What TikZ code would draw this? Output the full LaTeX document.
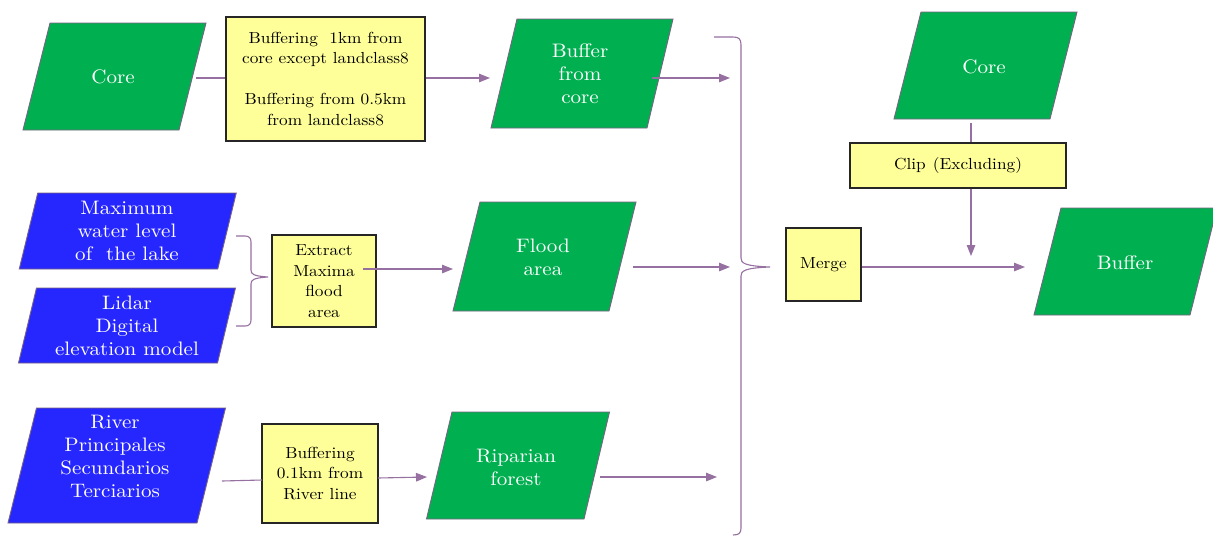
\documentclass[tikz,border=0pt]{standalone}
\usepackage{fontspec}
\setmainfont{lmroman10-regular.otf}[FakeStretch=1.08]
\usetikzlibrary{arrows.meta,calc}
\definecolor{pgreen}{RGB}{0,176,80}
\definecolor{pblue}{RGB}{38,38,255}
\definecolor{pyellow}{RGB}{255,255,153}
\definecolor{plink}{RGB}{150,112,160}
\definecolor{pedge}{RGB}{120,100,130}
\tikzset{
 wtext/.style={text=white, align=center, font=\fontsize{19.5}{23}\selectfont, inner sep=0pt},
 ytext/.style={align=center, font=\fontsize{16}{20.5}\selectfont, inner sep=0pt},
 ybox/.style={draw=black!85, fill=pyellow, line width=1.1pt},
 para/.style={draw=pedge, line width=0.9pt},
 conn/.style={draw=plink, line width=1.1pt},
 arr/.style={conn, -{Triangle[length=11pt,width=8.5pt]}},
}
% #1 name, #2 cx, #3 cy, #4 width, #5 height, #6 slant, #7 colour
\newcommand\paral[7]{%
 \path[para, fill=#7] (#2-#4/2+#6/2, #3-#5/2) -- (#2+#4/2+#6/2, #3-#5/2) -- (#2+#4/2-#6/2, #3+#5/2) -- (#2-#4/2-#6/2, #3+#5/2) -- cycle;
 \coordinate (#1) at (#2,#3);}
\begin{document}
\begin{tikzpicture}[x=1pt,y=-1pt]
\useasboundingbox[fill=white] (0,0) rectangle (1213,536);

% parallelograms
\paral{coreL}{114.5}{76.5}{156}{107}{27}{pgreen}
\node[wtext] (coreLt) at (113,77) {Core};
\paral{bfc}{582}{73.5}{156}{109}{26}{pgreen}
\node[wtext] (bfct) at (580,74) {Buffer\\from\\core};
\paral{fl}{544.5}{256.5}{156}{109}{27}{pgreen}
\node[wtext] (flt) at (543,257) {Flood\\area};
\paral{mx}{127.75}{231}{198.5}{76}{18.5}{pblue}
\node[wtext] (mxt) at (127,231) {Maximum\\water level\\of\ \ the lake};
\paral{li}{127}{325.5}{199}{75}{18}{pblue}
\node[wtext] (lit) at (127,326) {Lidar\\Digital\\elevation model};
\paral{rv}{116.75}{465.5}{189}{115}{28.5}{pblue}
\node[wtext] (rvt) at (115,456) {River\\Principales\\Secundarios\\Terciarios};
\paral{rp}{518}{465.5}{157.5}{107}{25.5}{pgreen}
\node[wtext] (rpt) at (516,467) {Riparian\\forest};
\paral{coreR}{985.5}{65.5}{156}{107}{27}{pgreen}
\node[wtext] (coreRt) at (984,67) {Core};
\paral{bufR}{1125.5}{261.5}{156}{107}{27}{pgreen}
\node[wtext] (bufRt) at (1125,263) {Buffer};

% yellow boxes
\node[ybox, ytext, minimum width=199, minimum height=124] (y1) at (325.5,79)
 {Buffering\ \ 1km from\\core except landclass8\\[20.5pt]Buffering from 0.5km\\from landclass8};
\node[ybox, ytext, minimum width=104, minimum height=92] (ex) at (324,281)
 {Extract\\Maxima\\flood\\area};
\node[ybox, ytext, minimum width=116, minimum height=99] (y3) at (320,473.5)
 {Buffering\\0.1km from\\River line};
\node[ybox, ytext, minimum width=75, minimum height=73] (merge) at (823.5,264.5) {Merge};
\node[ybox, ytext, minimum width=216, minimum height=45] (clip) at (958,165.5)
 {Clip\hspace{0.45em}(Excluding)};

% connector end points
\coordinate (a1) at (196,78);
\coordinate (a2) at (490,78);
\coordinate (c1) at (652,78);
\coordinate (c2) at (730,78);
\coordinate (e1) at (363,269);
\coordinate (e2) at (453,269);
\coordinate (f1) at (633,267);
\coordinate (f2) at (730,267);
\coordinate (g1) at (222,481);
\coordinate (g2) at (262,480);
\coordinate (h1) at (378,478);
\coordinate (h2) at (427,477);
\coordinate (i1) at (600,477);
\coordinate (i2) at (717,477);
\coordinate (k2) at (1025,267);
\coordinate (l1) at (971,123);
\coordinate (m2) at (971,256);

% connectors
\draw[conn] (a1) -- (a1 -| y1.west);
\draw[arr] (y1.east |- a2) -- (a2);
\draw[arr] (c1) -- (c2);
\draw[arr] (e1) -- (e2);
\draw[arr] (f1) -- (f2);
\draw[conn] (g1) -- (g2);
\draw[arr] (h1) -- (h2);
\draw[arr] (i1) -- (i2);
\draw[arr] (merge.east |- k2) -- (k2);
\draw[conn] (l1) -- (l1 |- clip.north);
\draw[arr] (m2 |- clip.south) -- (m2);

% braces
\draw[conn] (714,37) -- (733,37) .. controls (739,37) and (741,39) .. (741,45)
 -- (741,258) .. controls (741,263) and (744,266) .. (770,267)
 .. controls (744,268) and (741,271) .. (741,276)
 -- (741,528) .. controls (741,533) and (739,535) .. (733,535);
\draw[conn] (236,236) -- (245,236) .. controls (249,236) and (251,238) .. (251,242)
 -- (251,270) .. controls (251,274) and (253,276) .. (268,277)
 .. controls (253,278) and (251,280) .. (251,284)
 -- (251,320) .. controls (251,324) and (249,326) .. (245,326) -- (236,326);
\end{tikzpicture}
\end{document}
